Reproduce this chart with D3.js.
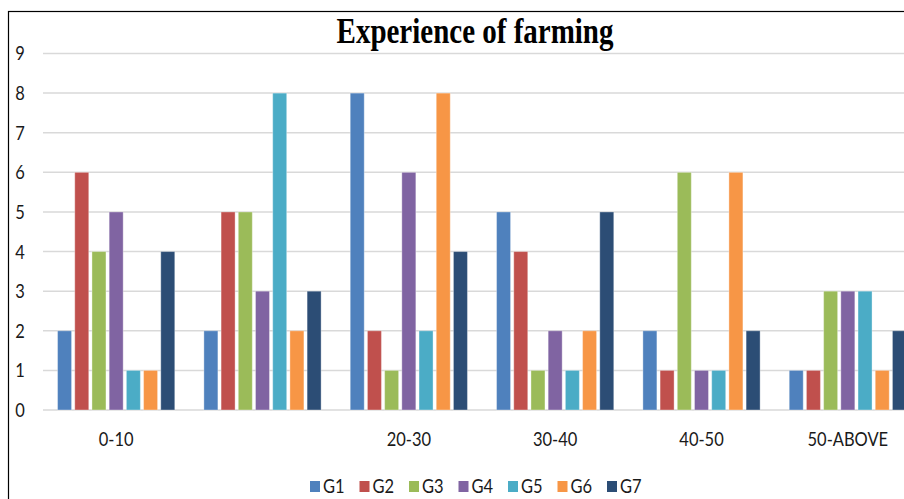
<!DOCTYPE html>
<html>
<head>
<meta charset="utf-8">
<script src="https://cdn.jsdelivr.net/npm/d3@7"></script>
<style>
  html, body { margin: 0; padding: 0; background: #fff; overflow: hidden; }
  svg { display: block; }
</style>
</head>
<body>
<svg id="chart" width="904" height="499"></svg>
<script>
// Experience groups (the second group carries no axis label)
const categories = ["0-10", "", "20-30", "30-40", "40-50", "50-ABOVE"];
const seriesNames = ["G1", "G2", "G3", "G4", "G5", "G6", "G7"];
const seriesColors = ["#4F81BD", "#C0504D", "#9BBB59", "#8064A2", "#4BACC6", "#F79646", "#2C4D75"];

// values per series, one entry per experience group
const G1 = [2, 2, 8, 5, 2, 1];
const G2 = [6, 5, 2, 4, 1, 1];
const G3 = [4, 5, 1, 1, 6, 3];
const G4 = [5, 3, 6, 2, 1, 3];
const G5 = [1, 8, 2, 1, 1, 3];
const G6 = [1, 2, 8, 2, 6, 1];
const G7 = [4, 3, 4, 5, 2, 2];
const yTicks = [0, 1, 2, 3, 4, 5, 6, 7, 8, 9];

const seriesValues = [G1, G2, G3, G4, G5, G6, G7];
const title = "Experience of farming";

const svg = d3.select("#chart");
const font = "Lato, 'Open Sans', sans-serif";
const textStretch = "scale(1,1.15)";

// outer frame (only the top and left edges fall inside the window)
svg.append("rect")
  .attr("x", 8.5).attr("y", 11.5)
  .attr("width", 1000).attr("height", 600)
  .attr("fill", "none").attr("stroke", "#000").attr("stroke-width", 1.2);

// scales
const x0 = d3.scaleBand().domain(d3.range(categories.length)).range([43, 921]).padding(0);
const x1 = d3.scaleBand().domain(seriesNames).range([0, x0.bandwidth()])
  .paddingInner(0.186).paddingOuter(0.846);
const y = d3.scaleLinear().domain([0, 9]).range([410, 53.5]);

// horizontal gridlines
svg.append("g").selectAll("line").data(yTicks).join("line")
  .attr("x1", 43).attr("x2", 904)
  .attr("y1", d => y(d)).attr("y2", d => y(d))
  .attr("stroke", "#d9d9d9").attr("stroke-width", 1.5);

// y axis labels
const yAxis = d3.axisLeft(y).tickValues(yTicks).tickSize(0).tickPadding(0);
const gy = svg.append("g").attr("transform", "translate(26,0)").call(yAxis);
gy.select(".domain").remove();
gy.selectAll("text")
  .attr("font-family", font).attr("font-size", 16.5).attr("fill", "#1a1a1a")
  .attr("text-anchor", "middle").attr("x", -6).attr("dy", "0.34em")
  .attr("transform", textStretch);

// bars
const groups = svg.append("g").selectAll("g").data(categories).join("g")
  .attr("transform", (d, i) => `translate(${x0(i)},0)`);
groups.selectAll("rect")
  .data((d, i) => seriesNames.map((s, k) => ({ s, k, v: seriesValues[k][i] })))
  .join("rect")
  .attr("x", d => x1(d.s))
  .attr("width", x1.bandwidth())
  .attr("y", d => y(d.v))
  .attr("height", d => y(0) - y(d.v))
  .attr("fill", d => seriesColors[d.k])
  .attr("stroke", "rgba(255,255,255,0.35)").attr("stroke-width", 1);

// category labels
const xAxis = d3.axisBottom(x0).tickFormat(i => categories[i]).tickSize(0).tickPadding(0);
const gx = svg.append("g").attr("transform", "translate(0,440)").call(xAxis);
gx.select(".domain").remove();
gx.selectAll("text")
  .attr("font-family", font).attr("font-size", 16.5).attr("fill", "#1a1a1a")
  .attr("y", 0).attr("dy", "0.34em")
  .attr("transform", textStretch);

// title
svg.append("text")
  .attr("transform", "translate(475,43) scale(1,1.2)")
  .attr("text-anchor", "middle")
  .attr("font-family", "'Liberation Serif', 'Times New Roman', serif")
  .attr("font-weight", "bold").attr("font-size", 29).attr("fill", "#000")
  .text(title);

// legend
const legend = svg.append("g").selectAll("g").data(seriesNames).join("g")
  .attr("transform", (d, i) => `translate(${310 + i * 49.5},481)`);
legend.append("rect")
  .attr("width", 10).attr("height", 11)
  .attr("fill", (d, i) => seriesColors[i]);
legend.append("text")
  .attr("transform", `translate(13,5.5) ${textStretch}`)
  .attr("dy", "0.34em")
  .attr("font-family", font).attr("font-size", 16.5).attr("fill", "#1a1a1a")
  .text(d => d);
</script>
</body>
</html>
